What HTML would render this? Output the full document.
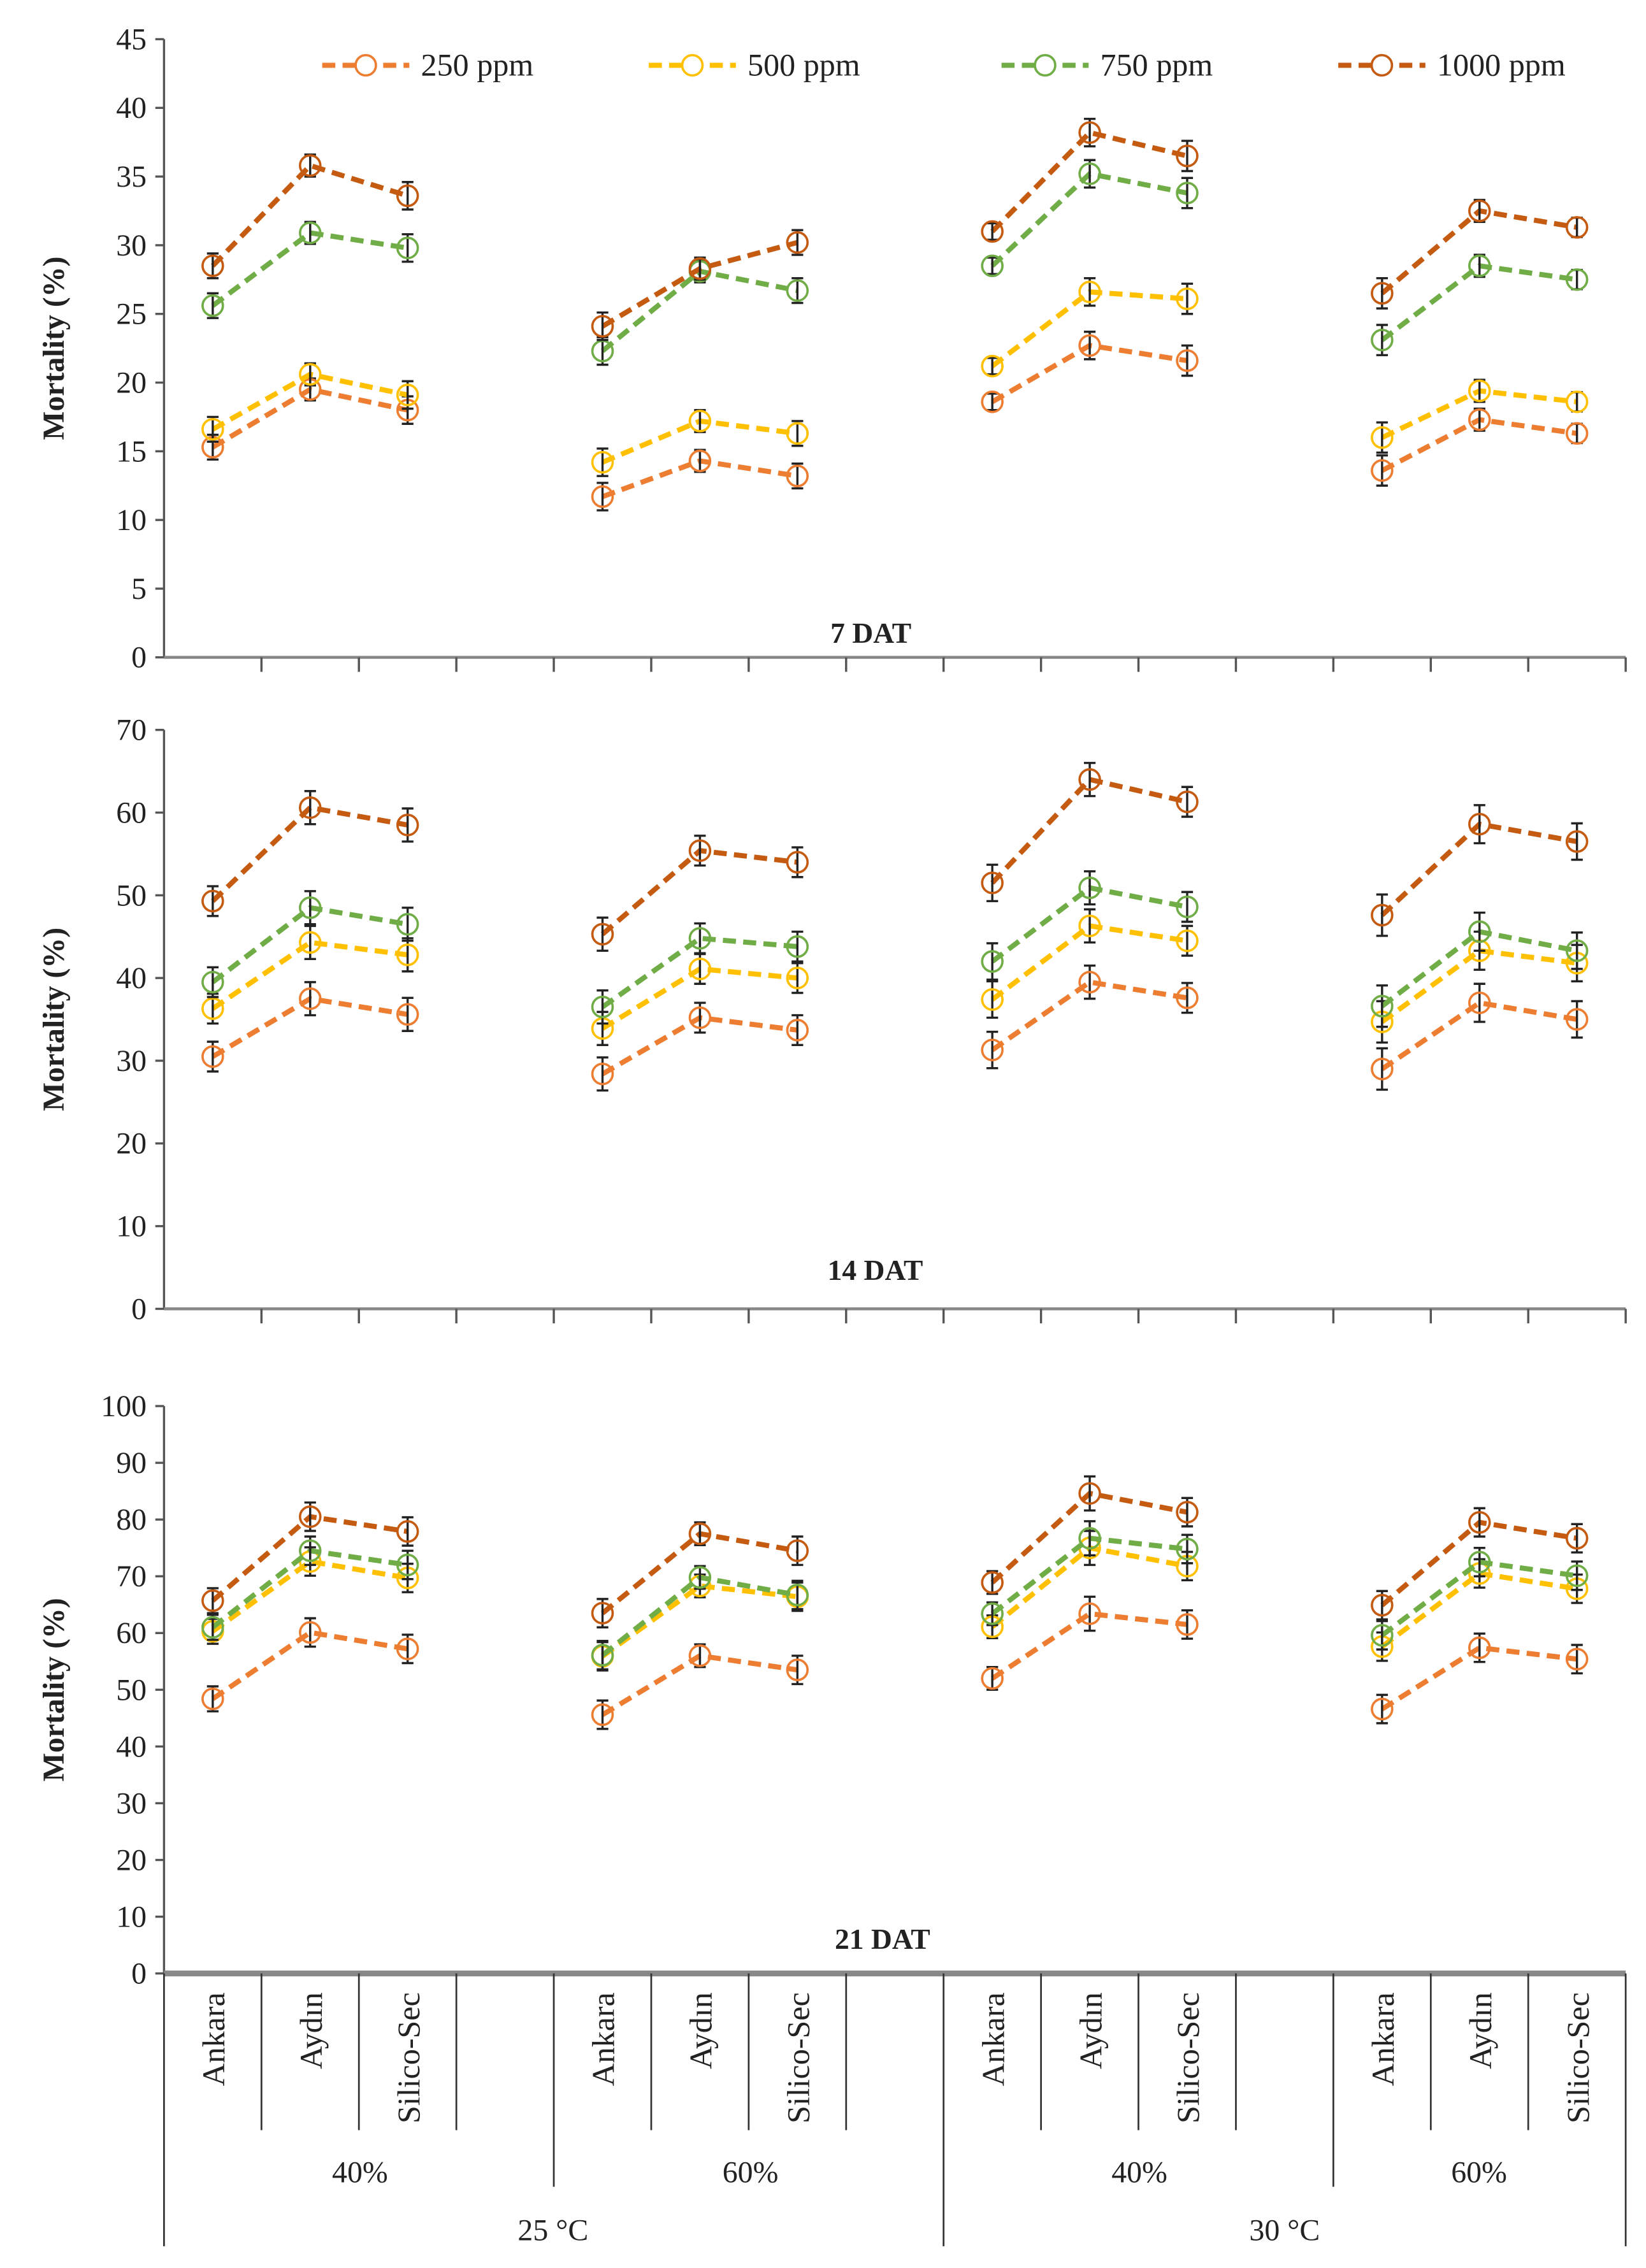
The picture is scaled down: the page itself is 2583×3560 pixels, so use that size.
<!DOCTYPE html>
<html><head><meta charset="utf-8"><style>
html,body{margin:0;padding:0;background:#fff}
svg{display:block}
text{font-family:"Liberation Serif",serif;fill:#222}
</style></head><body>
<svg id="c" width="2583" height="3560" viewBox="0 0 1134 1563" preserveAspectRatio="none" xmlns="http://www.w3.org/2000/svg"></svg>
<script>
const sites = ["Ankara","Aydın","Silico-Sec"];
const humidity = ["40%","60%","40%","60%"];
const temps = ["25 °C","30 °C"];
const seriesNames = ["250 ppm","500 ppm","750 ppm","1000 ppm"];
const panelTitles = ["7 DAT","14 DAT","21 DAT"];
const yMaxs = [45,70,100];
const ySteps = [5,10,10];
const d7_250 = [15.3,19.5,18.0, 11.7,14.3,13.2, 18.6,22.7,21.6, 13.6,17.3,16.3];
const d7_500 = [16.6,20.6,19.1, 14.2,17.2,16.3, 21.2,26.6,26.1, 16.0,19.4,18.6];
const d7_750 = [25.6,30.9,29.8, 22.3,28.1,26.7, 28.5,35.2,33.8, 23.1,28.5,27.5];
const d7_1000 = [28.5,35.8,33.6, 24.1,28.3,30.2, 31.0,38.2,36.5, 26.5,32.5,31.3];
const d14_250 = [30.5,37.5,35.6, 28.4,35.2,33.7, 31.3,39.5,37.6, 29.0,37.0,35.0];
const d14_500 = [36.3,44.3,42.8, 33.9,41.1,40.0, 37.4,46.3,44.5, 34.7,43.3,41.8];
const d14_750 = [39.5,48.5,46.5, 36.5,44.8,43.8, 42.0,50.9,48.6, 36.6,45.6,43.3];
const d14_1000 = [49.3,60.6,58.5, 45.3,55.4,54.0, 51.5,64.0,61.3, 47.6,58.6,56.5];
const d21_250 = [48.4,60.1,57.2, 45.6,56.0,53.5, 52.0,63.4,61.5, 46.6,57.4,55.4];
const d21_500 = [60.3,72.6,69.7, 55.9,68.3,66.4, 61.1,75.0,71.8, 57.6,70.5,67.8];
const d21_750 = [61.0,74.5,72.0, 56.1,69.8,66.7, 63.4,76.7,74.8, 59.6,72.5,70.1];
const d21_1000 = [65.7,80.5,77.9, 63.5,77.5,74.5, 68.9,84.6,81.3, 64.9,79.5,76.7];
const err7 = [0.9,0.8,1.0, 1.0,0.8,0.9, 0.6,1.0,1.1, 1.1,0.8,0.7];
const err14 = [1.8,2.0,2.0, 2.0,1.8,1.8, 2.2,2.0,1.8, 2.5,2.3,2.2];
const err21 = [2.2,2.5,2.5, 2.5,2.0,2.5, 2.0,3.0,2.5, 2.5,2.5,2.5];
const panelData = [[d7_250,d7_500,d7_750,d7_1000],[d14_250,d14_500,d14_750,d14_1000],[d21_250,d21_500,d21_750,d21_1000]];
const panelErr = [err7,err14,err21];
const colors = ["#ED7D31","#FFC000","#70AD47","#C55A11"];
const panelGeom = [{y0:453,y1:27,ty:443},{y0:902,y1:503,ty:882},{y0:1360,y1:969,ty:1343}];
const X0=113,X1=1120,slot=(X1-X0)/15;
const svg=document.getElementById('c');
const NS="http://www.w3.org/2000/svg";
function el(tag,attrs,parent){const e=document.createElementNS(NS,tag);for(const k in attrs)e.setAttribute(k,attrs[k]);(parent||svg).appendChild(e);return e;}
function xOf(i){const g=Math.floor(i/3),s=i%3;return X0+(g*4+s+0.5)*slot;}
panelGeom.forEach((pg,p)=>{
  const g=el('g',{});
  
  
  const yOf=v=>pg.y0-(v/yMaxs[p])*(pg.y0-pg.y1);
  const ax=el('line',{x1:X0,y1:pg.y1,x2:X0,y2:pg.y0,stroke:'#555','stroke-width':1.5},g);
  
  const xa=el('line',{x1:X0,y1:pg.y0,x2:X1,y2:pg.y0,stroke:'#888','stroke-width':p==2?4:2},g);
  
  for(let v=0;v<=yMaxs[p];v+=ySteps[p]){
    const y=yOf(v);
    el('line',{x1:X0-6,y1:y,x2:X0,y2:y,stroke:'#555','stroke-width':1.5},g);
    const t=el('text',{x:X0-12,y:y+7,'text-anchor':'end','font-size':21},g);t.textContent=v;
    
  }
  if(p<2){for(let k=1;k<=15;k++){const x=X0+k*slot;el('line',{x1:x,y1:pg.y0,x2:x,y2:pg.y0+10,stroke:'#555','stroke-width':1.5},g);}}
  const yt=el('text',{x:0,y:0,'text-anchor':'middle','font-size':21,'font-weight':'bold',transform:`translate(44,${(pg.y0+pg.y1)/2}) rotate(-90)`},g);
  yt.textContent='Mortality (%)';
  const tt=el('text',{x:[600,603,608][p],y:pg.ty,'text-anchor':'middle','font-size':20,'font-weight':'bold'},g);
  tt.textContent=panelTitles[p];
  panelData[p].forEach((ser,si)=>{
    for(let gi=0;gi<4;gi++){
      const pts=[0,1,2].map(s=>xOf(gi*3+s)+','+yOf(ser[gi*3+s])).join(' ');
      const pl=el('polyline',{points:pts,fill:'none',stroke:colors[si],'stroke-width':3.5,'stroke-dasharray':'9,5'},g);
      
    }
    ser.forEach((v,i)=>{
      const x=xOf(i),y=yOf(v),e=panelErr[p][i]*(pg.y0-pg.y1)/yMaxs[p];
      const eb=el('path',{d:`M${x},${y-e}V${y+e}M${x-4},${y-e}H${x+4}M${x-4},${y+e}H${x+4}`,stroke:'#222','stroke-width':1.5,fill:'none'},g);
      
      const c=el('circle',{cx:x,cy:y,r:7,fill:'none',stroke:colors[si],'stroke-width':1.6},g);
      
    });
  });
});
const lx=[222,447,690,922];
seriesNames.forEach((n,i)=>{
  const g=el('g',{});
  
  
  el('line',{x1:lx[i],y1:45,x2:lx[i]+60,y2:45,stroke:colors[i],'stroke-width':3.5,'stroke-dasharray':'9,5'},g);
  el('circle',{cx:lx[i]+30,cy:45,r:7,fill:'#fff',stroke:colors[i],'stroke-width':1.6},g);
  const t=el('text',{x:lx[i]+68,y:52,'font-size':22},g);t.textContent=n;
});
const bg=el('g',{});


for(let k=0;k<=15;k++){
  const x=X0+k*slot;let y2=1468;
  if(k==0||k==8||k==15)y2=1548;else if(k==4||k==12)y2=1507;
  el('line',{x1:x,y1:1360,x2:x,y2:y2,stroke:'#333','stroke-width':1.2},bg);
}
for(let i=0;i<12;i++){
  const x=xOf(i);
  const t=el('text',{x:0,y:0,'text-anchor':'end','font-size':22,transform:`translate(${x+8},1373) rotate(-90)`},bg);
  t.textContent=sites[i%3];
  
  
}
const hx=[248,517,785,1019];
humidity.forEach((h,i)=>{const t=el('text',{x:hx[i],y:1504,'text-anchor':'middle','font-size':21},bg);t.textContent=h;
  
  });
const tx=[381,885];
temps.forEach((h,i)=>{const t=el('text',{x:tx[i],y:1544,'text-anchor':'middle','font-size':21},bg);t.textContent=h;
  
  });
</script>
</body></html>
